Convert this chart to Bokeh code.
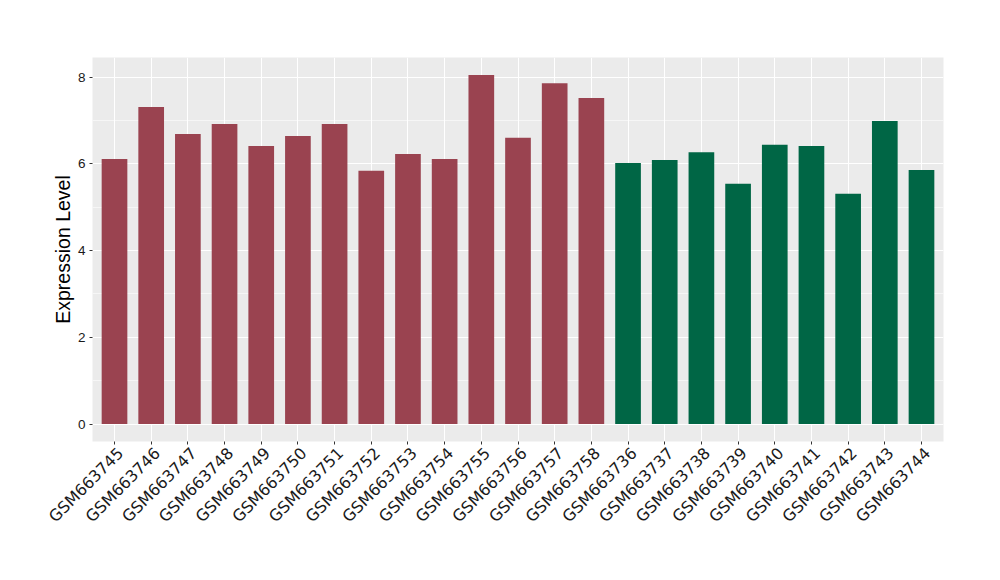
import math
from bokeh.plotting import figure
from bokeh.models import ColumnDataSource, Range1d, FixedTicker, LinearAxis
from bokeh.embed import file_html
from bokeh.resources import INLINE

samples = ["GSM663745", "GSM663746", "GSM663747", "GSM663748", "GSM663749", "GSM663750",
           "GSM663751", "GSM663752", "GSM663753", "GSM663754", "GSM663755", "GSM663756",
           "GSM663757", "GSM663758", "GSM663736", "GSM663737", "GSM663738", "GSM663739",
           "GSM663740", "GSM663741", "GSM663742", "GSM663743", "GSM663744"]
values = [6.11, 7.31, 6.69, 6.92, 6.41, 6.64, 6.92, 5.84, 6.23, 6.11, 8.05, 6.60,
          7.86, 7.52, 6.02, 6.09, 6.27, 5.54, 6.44, 6.41, 5.31, 6.99, 5.86]
groups = ["A"] * 14 + ["B"] * 9
group_colors = {"A": "#9A4350", "B": "#006645"}
y_ticks = [0, 2, 4, 6, 8]
y_minor = [1, 3, 5, 7]

xs = [i + 1 for i in range(len(samples))]
vmax = max(values)
pad = vmax * 0.05
n = len(samples)

src = ColumnDataSource(dict(x=xs, v=values, c=[group_colors[g] for g in groups]))

frame_w = 984 - 92 - 41
x_start, x_end = 0.4, n + 0.6
shift = 6 * (x_end - x_start) / frame_w  # label shift of ~6px to the right

p = figure(width=984, height=564, output_backend="svg", toolbar_location=None,
           x_range=Range1d(x_start, x_end), y_range=Range1d(-pad, vmax + pad),
           min_border_left=92, min_border_right=41, min_border_top=57, min_border_bottom=123)
p.extra_x_ranges = {"lab": Range1d(x_start - shift, x_end - shift)}

p.vbar(x="x", top="v", bottom=0, width=0.7, fill_color="c", line_color=None, source=src)

p.background_fill_color = "#EBEBEB"
p.border_fill_color = "white"
p.outline_line_color = None

p.xaxis.ticker = FixedTicker(ticks=xs)
p.xaxis.major_label_overrides = {x: "" for x in xs}
p.xaxis.major_label_text_font_size = "1px"
p.yaxis.ticker = FixedTicker(ticks=y_ticks, minor_ticks=y_minor)

for ax in (p.xaxis, p.yaxis):
    ax.axis_line_color = None
    ax.major_tick_line_color = "#333333"
    ax.major_tick_line_width = 1
    ax.major_tick_out = 3
    ax.major_tick_in = 0
    ax.minor_tick_line_color = None
    ax.major_label_text_color = "#1A1A1A"
    ax.major_label_standoff = 3
p.xaxis.major_label_standoff = 0

lab_axis = LinearAxis(x_range_name="lab", ticker=FixedTicker(ticks=xs),
                      major_label_overrides={x: s for x, s in zip(xs, samples)},
                      major_label_orientation=math.pi / 4,
                      major_label_text_font="DejaVu Sans", major_label_text_font_size="16px",
                      major_label_text_color="#1A1A1A", major_label_standoff=6,
                      axis_line_color=None, major_tick_line_color=None,
                      minor_tick_line_color=None, major_tick_out=0, major_tick_in=0)
p.add_layout(lab_axis, "below")

p.yaxis.major_label_text_font = "Liberation Sans"
p.yaxis.major_label_text_font_size = "13.5px"

p.yaxis.axis_label = "Expression Level"
p.yaxis.axis_label_text_font = "Liberation Sans"
p.yaxis.axis_label_text_font_size = "19.5px"
p.yaxis.axis_label_text_font_style = "normal"
p.yaxis.axis_label_text_color = "black"
p.yaxis.axis_label_standoff = 1

p.xgrid.grid_line_color = "white"
p.xgrid.grid_line_width = 1.1
p.ygrid.grid_line_color = "white"
p.ygrid.grid_line_width = 1.1
p.ygrid.minor_grid_line_color = "white"
p.ygrid.minor_grid_line_width = 0.55

open("out.html", "w").write(file_html(p, INLINE))
